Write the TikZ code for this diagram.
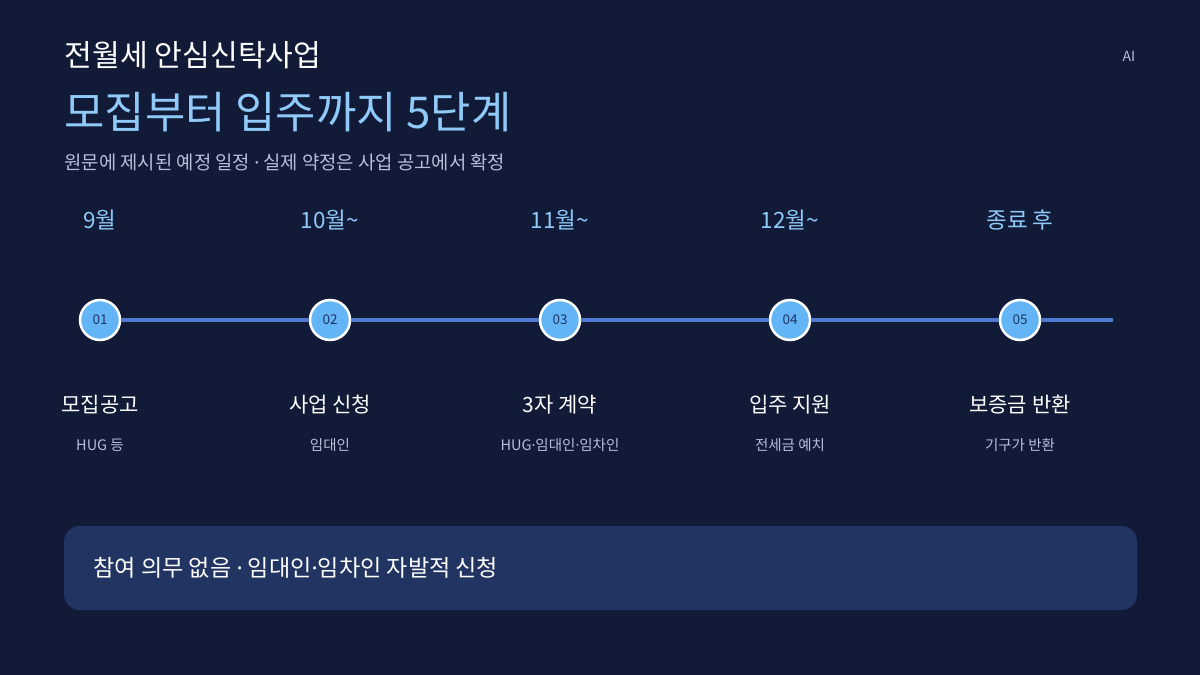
\documentclass[tikz,border=0pt]{standalone}
\usepackage{fontspec}
\setmainfont{Noto Sans CJK KR}
\newfontfamily\dotfont{Noto Sans}
\newcommand{\mdot}{{\dotfont ·}}
\definecolor{bgnavy}{HTML}{111B38}
\definecolor{titleblue}{HTML}{90CAF9}
\definecolor{linkblue}{HTML}{4F79CC}
\definecolor{dotblue}{HTML}{64B5F6}
\definecolor{numnavy}{HTML}{1C3566}
\definecolor{subgray}{HTML}{B4C0D8}
\definecolor{notebox}{HTML}{223462}
\tikzset{
  month/.style={text=titleblue,font=\fontsize{22.5}{26}\selectfont},
  stepdot/.style={circle,fill=dotblue,draw=white,line width=2.5pt,minimum size=40pt,inner sep=0pt,text=numnavy,font=\fontsize{13.5}{15}\selectfont},
  steptitle/.style={text=white,font=\fontsize{21}{25}\selectfont},
  stepnote/.style={text=subgray,font=\fontsize{14.5}{17}\selectfont}
}
\begin{document}
\begin{tikzpicture}[x=1pt,y=-1pt]
  \fill[bgnavy] (0,0) rectangle (1200,675);
  \useasboundingbox (0,0) rectangle (1200,675);

  % heading
  \node[anchor=west,text=white,font=\fontsize{30.2}{34}\selectfont] (head) at (61,55) {전월세 안심신탁사업};
  \node[anchor=west,text=titleblue,font=\fontsize{43.8}{50}\selectfont] (title) at (61,112) {모집부터 입주까지 5단계};
  \node[anchor=west,text=subgray,font=\fontsize{18.8}{22}\selectfont] (sub) at (61,162) {원문에 제시된 예정 일정 \mdot{} 실제 약정은 사업 공고에서 확정};
  \node[text=subgray,font=\fontsize{14}{16}\selectfont] (ai) at (1129,56) {AI};

  % timeline
  \coordinate (lineend) at (1113,320);
  \node[stepdot] (s1) at (100,320) {01};
  \node[stepdot] (s2) at (330,320) {02};
  \node[stepdot] (s3) at (560,320) {03};
  \node[stepdot] (s4) at (790,320) {04};
  \node[stepdot] (s5) at (1020,320) {05};
  \draw[linkblue,line width=4.5pt] (s1) -- (s2);
  \draw[linkblue,line width=4.5pt] (s2) -- (s3);
  \draw[linkblue,line width=4.5pt] (s3) -- (s4);
  \draw[linkblue,line width=4.5pt] (s4) -- (s5);
  \draw[linkblue,line width=4.5pt] (s5) -- (lineend);

  \node[month] (m1) at (100,220) {9월};
  \node[month] (m2) at (330,220) {10월\textasciitilde};
  \node[month] (m3) at (560,220) {11월\textasciitilde};
  \node[month] (m4) at (790,220) {12월\textasciitilde};
  \node[month] (m5) at (1020,220) {종료 후};

  \node[steptitle] (t1) at (100,405) {모집공고};
  \node[steptitle] (t2) at (330,405) {사업 신청};
  \node[steptitle] (t3) at (560,405) {3자 계약};
  \node[steptitle] (t4) at (790,405) {입주 지원};
  \node[steptitle] (t5) at (1020,405) {보증금 반환};

  \node[stepnote] (n1) at (100,445) {HUG 등};
  \node[stepnote] (n2) at (330,445) {임대인};
  \node[stepnote] (n3) at (560,445) {HUG\mdot 임대인\mdot 임차인};
  \node[stepnote] (n4) at (790,445) {전세금 예치};
  \node[stepnote] (n5) at (1020,445) {기구가 반환};

  % note box
  \fill[notebox,rounded corners=16pt] (64,526) rectangle (1137,610);
  \node[anchor=west,text=white,font=\fontsize{23.1}{27}\selectfont] (note) at (90,568) {참여 의무 없음 \mdot{} 임대인\mdot 임차인 자발적 신청};
\end{tikzpicture}
\end{document}
